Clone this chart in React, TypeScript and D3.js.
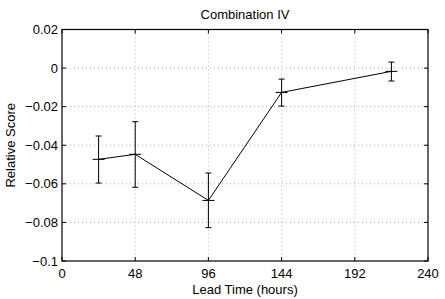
import * as d3 from "d3";
import { useEffect, useRef } from "react";

const leadHours = [24, 48, 96, 144, 216];
const scores = [-0.0473, -0.0447, -0.0686, -0.0126, -0.0017];
const upper = [-0.0352, -0.0278, -0.0544, -0.0057, 0.0031];
const lower = [-0.0596, -0.0618, -0.0827, -0.0197, -0.0067];
const xTicks = [0, 48, 96, 144, 192, 240];
const yTicks = [-0.1, -0.08, -0.06, -0.04, -0.02, 0, 0.02];

const W = 445;
const H = 299;
const FONT = "'Liberation Sans', Arial, Helvetica, sans-serif";

export default function App() {
  const ref = useRef<SVGSVGElement | null>(null);
  useEffect(() => {
    if (!ref.current) return;
    const svg = d3.select(ref.current);
    svg.selectAll("*").remove();
    const m = { left: 62, right: 428, top: 29.5, bottom: 261 };
    const x = d3.scaleLinear().domain([0, 240]).range([m.left, m.right]);
    const y = d3.scaleLinear().domain([-0.1, 0.02]).range([m.bottom, m.top]);

    svg.append("rect").attr("width", W).attr("height", H).attr("fill", "#fff");

    // dotted grid
    const grid = svg.append("g").attr("stroke", "#999").attr("stroke-width", 0.8).attr("stroke-dasharray", "1,3");
    xTicks.slice(1, -1).forEach((t) => {
      grid.append("line").attr("x1", x(t)).attr("x2", x(t)).attr("y1", m.top).attr("y2", m.bottom);
    });
    yTicks.slice(1, -1).forEach((t) => {
      grid.append("line").attr("x1", m.left).attr("x2", m.right).attr("y1", y(t)).attr("y2", y(t));
    });

    // inward ticks
    const tk = svg.append("g").attr("stroke", "#000").attr("stroke-width", 1);
    xTicks.forEach((t) => {
      tk.append("line").attr("x1", x(t)).attr("x2", x(t)).attr("y1", m.bottom).attr("y2", m.bottom - 4);
      tk.append("line").attr("x1", x(t)).attr("x2", x(t)).attr("y1", m.top).attr("y2", m.top + 4);
    });
    yTicks.forEach((t) => {
      tk.append("line").attr("x1", m.left).attr("x2", m.left + 4).attr("y1", y(t)).attr("y2", y(t));
      tk.append("line").attr("x1", m.right).attr("x2", m.right - 4).attr("y1", y(t)).attr("y2", y(t));
    });

    svg.append("rect")
      .attr("x", m.left).attr("y", m.top)
      .attr("width", m.right - m.left).attr("height", m.bottom - m.top)
      .attr("fill", "none").attr("stroke", "#000").attr("stroke-width", 1.2);

    // tick labels
    const fmt = (v: number) => (Math.abs(v) < 1e-9 ? "0" : String(+v.toFixed(2)).replace("-", "\u2212"));
    svg.append("g").selectAll("text").data(xTicks).enter().append("text")
      .attr("x", (d) => x(d)).attr("y", m.bottom + 17)
      .attr("text-anchor", "middle").attr("font-family", FONT).attr("font-size", 13)
      .text((d) => String(d));
    svg.append("g").selectAll("text").data(yTicks).enter().append("text")
      .attr("x", m.left - 4).attr("y", (d) => y(d) + 4.5)
      .attr("text-anchor", "end").attr("font-family", FONT).attr("font-size", 13)
      .text((d) => fmt(d));

    // error bars
    const eb = svg.append("g").attr("stroke", "#000").attr("stroke-width", 1);
    leadHours.forEach((h, i) => {
      const cx = x(h);
      eb.append("line").attr("x1", cx).attr("x2", cx).attr("y1", y(upper[i])).attr("y2", y(lower[i]));
      eb.append("line").attr("x1", cx - 3).attr("x2", cx + 3).attr("y1", y(upper[i])).attr("y2", y(upper[i]));
      eb.append("line").attr("x1", cx - 3).attr("x2", cx + 3).attr("y1", y(lower[i])).attr("y2", y(lower[i]));
      eb.append("line").attr("x1", cx - 6).attr("x2", cx + 6).attr("y1", y(scores[i])).attr("y2", y(scores[i]));
    });

    const line = d3.line<number>().x((_, i) => x(leadHours[i])).y((d) => y(d));
    svg.append("path").datum(scores).attr("d", line).attr("fill", "none").attr("stroke", "#000").attr("stroke-width", 1);

    svg.append("text").attr("x", (m.left + m.right) / 2).attr("y", 19)
      .attr("text-anchor", "middle").attr("font-family", FONT).attr("font-size", 13).text("Combination IV");
    svg.append("text").attr("x", (m.left + m.right) / 2).attr("y", 294)
      .attr("text-anchor", "middle").attr("font-family", FONT).attr("font-size", 13).text("Lead Time (hours)");
    svg.append("text")
      .attr("transform", `translate(15,${(m.top + m.bottom) / 2}) rotate(-90)`)
      .attr("text-anchor", "middle").attr("font-family", FONT).attr("font-size", 13).text("Relative Score");
  }, []);
  return (
    <svg ref={ref} width={W} height={H} viewBox={`0 0 ${W} ${H}`}
      style={{ position: "fixed", left: 0, top: 0, display: "block" }} />
  );
}
